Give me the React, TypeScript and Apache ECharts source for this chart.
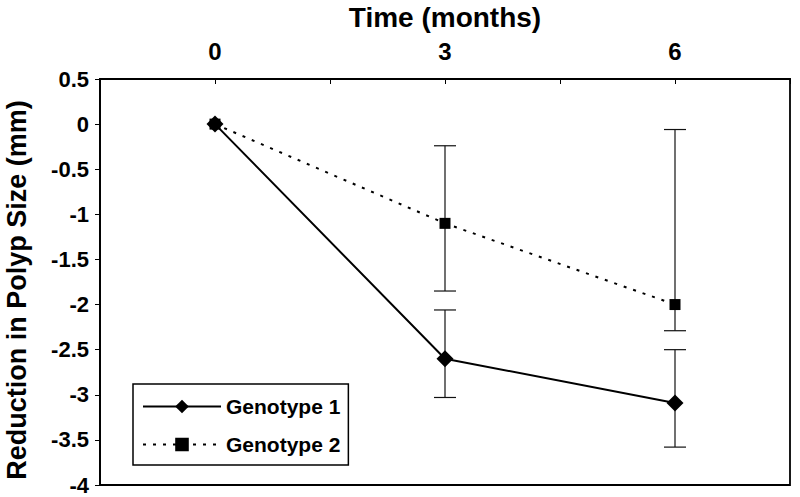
import React, { useEffect, useRef } from "react";
import * as echarts from "echarts";

const timePoints = [0, 3, 6];
const xTickLabels = ["0", "3", "6"];
const seriesNames = ["Genotype 1", "Genotype 2"];
const xAxisTitle = "Time (months)";
const yAxisTitle = "Reduction in Polyp Size (mm)";
const genotype1 = [0, -2.6, -3.09];
const genotype2 = [0, -1.1, -2.0];
const genotype1Upper = [0, -2.06, -2.5];
const genotype1Lower = [0, -3.03, -3.58];
const genotype2Upper = [0, -0.24, -0.06];
const genotype2Lower = [0, -1.85, -2.29];

const FONT = "'Liberation Sans', Arial, sans-serif";

export default function App() {
  const ref = useRef<HTMLDivElement>(null);
  useEffect(() => {
    if (!ref.current) return;
    const chart = echarts.init(ref.current, undefined, { renderer: "svg" });

    const errData: number[][] = [];
    timePoints.forEach((t, i) => {
      if (i === 0) return;
      errData.push([t, genotype1Lower[i], genotype1Upper[i]]);
      errData.push([t, genotype2Lower[i], genotype2Upper[i]]);
    });

    const option: any = {
      animation: false,
      backgroundColor: "#fff",
      grid: {
        left: 100,
        right: 10,
        top: 79,
        bottom: 12,
        show: true,
        borderColor: "#000",
        borderWidth: 1.8,
        outerBoundsMode: "none",
        containLabel: false,
      },
      graphic: [
        {
          type: "text",
          x: 445,
          y: 17,
          style: {
            text: xAxisTitle,
            font: `bold 28px ${FONT}`,
            fill: "#000",
            textAlign: "center",
            textVerticalAlign: "middle",
          },
        },
        {
          type: "text",
          x: 17,
          y: 290,
          rotation: Math.PI / 2,
          style: {
            text: yAxisTitle,
            font: `bold 27px ${FONT}`,
            fill: "#000",
            textAlign: "center",
            textVerticalAlign: "middle",
          },
        },
      ],
      xAxis: {
        type: "value",
        position: "top",
        min: -1.5,
        max: 7.5,
        interval: 1.5,
        axisLine: { show: true, onZero: false, lineStyle: { color: "#000", width: 1.8 } },
        axisTick: { show: true, inside: true, length: 5, lineStyle: { color: "#000", width: 1 } },
        axisLabel: {
          fontFamily: FONT,
          fontWeight: "bold",
          fontSize: 24,
          color: "#000",
          margin: 16,
          formatter: (v: number) => {
            const idx = timePoints.indexOf(v);
            return idx >= 0 ? xTickLabels[idx] : "";
          },
        },
        splitLine: { show: false },
      },
      yAxis: {
        type: "value",
        min: -4,
        max: 0.5,
        interval: 0.5,
        axisLine: { show: true, onZero: false, lineStyle: { color: "#000", width: 1.8 } },
        axisTick: { show: true, inside: false, length: 5, lineStyle: { color: "#000", width: 1 } },
        axisLabel: {
          fontFamily: FONT,
          fontWeight: "bold",
          fontSize: 22,
          color: "#000",
          margin: 11,
        },
        splitLine: { show: false },
      },
      legend: {
        data: seriesNames,
        orient: "vertical",
        left: 133,
        top: 384,
        borderColor: "#000",
        borderWidth: 1.5,
        padding: [11, 8, 9, 9],
        itemWidth: 78,
        itemHeight: 17,
        itemGap: 15,
        textStyle: { fontFamily: FONT, fontWeight: "bold", fontSize: 21, color: "#000", lineHeight: 23 },
        selectedMode: false,
      },
      series: [
        {
          type: "custom",
          name: "errors",
          data: errData,
          z: 1,
          renderItem: (params: any, api: any) => {
            const x = api.value(0);
            const lo = api.coord([x, api.value(1)]);
            const hi = api.coord([x, api.value(2)]);
            const hw = 11;
            const style = { stroke: "#111", lineWidth: 1.2 };
            return {
              type: "group",
              children: [
                { type: "line", shape: { x1: lo[0], y1: lo[1], x2: hi[0], y2: hi[1] }, style },
                { type: "line", shape: { x1: lo[0] - hw, y1: lo[1], x2: lo[0] + hw, y2: lo[1] }, style },
                { type: "line", shape: { x1: hi[0] - hw, y1: hi[1], x2: hi[0] + hw, y2: hi[1] }, style },
              ],
            };
          },
        },
        {
          type: "line",
          name: seriesNames[1],
          data: timePoints.map((t, i) => [t, genotype2[i]]),
          symbol: "rect",
          symbolSize: 11,
          z: 3,
          lineStyle: { color: "#000", width: 2, type: [3, 7] },
          itemStyle: { color: "#000" },
        },
        {
          type: "line",
          name: seriesNames[0],
          data: timePoints.map((t, i) => [t, genotype1[i]]),
          symbol: "diamond",
          symbolSize: 17,
          z: 4,
          lineStyle: { color: "#000", width: 2 },
          itemStyle: { color: "#000" },
        },
      ],
    };
    chart.setOption(option);
    return () => chart.dispose();
  }, []);

  return (
    <div
      ref={ref}
      style={{ position: "fixed", left: 0, top: 0, width: 800, height: 497, background: "#fff" }}
    />
  );
}
